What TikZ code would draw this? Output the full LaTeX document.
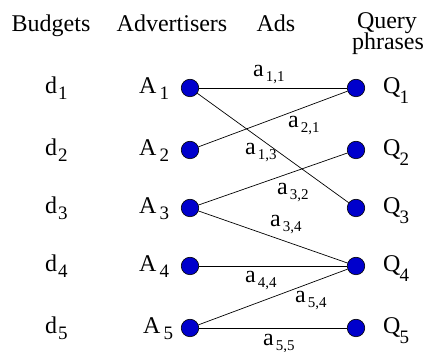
\documentclass[tikz,border=0pt]{standalone}
\usepackage{fontspec}
\setmainfont{Liberation Serif}
\definecolor{vblue}{RGB}{0,0,204}
\newcommand{\rsub}[4]{\hspace{#1}\raisebox{-#2}{\fontsize{#3}{#3}\selectfont #4}}
\begin{document}
\begin{tikzpicture}[x=1pt,y=-1pt,
  vert/.style={circle,draw=black,fill=vblue,minimum size=17.5pt,inner sep=0pt,line width=0.6pt},
  edge/.style={line width=0.7pt,black},
  head/.style={anchor=base,inner sep=0pt,font=\fontsize{24}{24}\selectfont},
  lbl/.style={anchor=base west,inner sep=0pt,font=\fontsize{24}{24}\selectfont},
  elbl/.style={anchor=base west,inner sep=0pt,font=\fontsize{24}{24}\selectfont}]
\useasboundingbox (0,0) rectangle (424,352);
% headers
\node[head] (hb) at (51,32) {Budgets};
\node[head] (ha) at (172,32) {Advertisers};
\node[head] (hd) at (276,32) {Ads};
\node[head] (hq) at (387,29) {Query};
\node[head] (hp) at (388,50) {phrases};
% vertices
\node[vert] (A1) at (190,88) {};
\node[vert] (A2) at (190,150) {};
\node[vert] (A3) at (190,208) {};
\node[vert] (A4) at (190,266) {};
\node[vert] (A5) at (190,328) {};
\node[vert] (Q1) at (356,88) {};
\node[vert] (Q2) at (356,150) {};
\node[vert] (Q3) at (356,208) {};
\node[vert] (Q4) at (356,266) {};
\node[vert] (Q5) at (356,328) {};
% edges
\draw[edge] (A1) -- (Q1);
\draw[edge] (A1) -- (Q3);
\draw[edge] (A2) -- (Q1);
\draw[edge] (A3) -- (Q2);
\draw[edge] (A3) -- (Q4);
\draw[edge] (A4) -- (Q4);
\draw[edge] (A5) -- (Q4);
\draw[edge] (A5) -- (Q5);
% budget labels
\node[lbl] (d1) at (45,94) {d\rsub{1pt}{6pt}{19}{1}};
\node[lbl] (d2) at (45,156) {d\rsub{1pt}{6pt}{19}{2}};
\node[lbl] (d3) at (45,214) {d\rsub{1pt}{6pt}{19}{3}};
\node[lbl] (d4) at (45,272) {d\rsub{1pt}{6pt}{19}{4}};
\node[lbl] (d5) at (45,334) {d\rsub{1pt}{6pt}{19}{5}};
% advertiser labels
\node[lbl] (la1) at (139,94) {A\rsub{3pt}{6pt}{19}{1}};
\node[lbl] (la2) at (139,156) {A\rsub{3pt}{6pt}{19}{2}};
\node[lbl] (la3) at (139,214) {A\rsub{3pt}{6pt}{19}{3}};
\node[lbl] (la4) at (139,272) {A\rsub{3pt}{6pt}{19}{4}};
\node[lbl] (la5) at (143,334) {A\rsub{3pt}{6pt}{19}{5}};
% query labels
\node[lbl] (lq1) at (383,94) {Q\rsub{-1pt}{10pt}{19}{1}};
\node[lbl] (lq2) at (383,156) {Q\rsub{-1pt}{10pt}{19}{2}};
\node[lbl] (lq3) at (383,214) {Q\rsub{-1pt}{10pt}{19}{3}};
\node[lbl] (lq4) at (383,272) {Q\rsub{-1pt}{10pt}{19}{4}};
\node[lbl] (lq5) at (383,334) {Q\rsub{-1pt}{10pt}{19}{5}};
% edge labels
\node[elbl] (e11) at (253,77) {a\rsub{2pt}{5pt}{15}{1,1}};
\node[elbl] (e21) at (288,128) {a\rsub{2pt}{5pt}{15}{2,1}};
\node[elbl] (e13) at (245,155) {a\rsub{2pt}{5pt}{15}{1,3}};
\node[elbl] (e32) at (277,195) {a\rsub{2pt}{5pt}{15}{3,2}};
\node[elbl] (e34) at (270,227) {a\rsub{2pt}{5pt}{15}{3,4}};
\node[elbl] (e44) at (245,283) {a\rsub{2pt}{5pt}{15}{4,4}};
\node[elbl] (e54) at (295,303) {a\rsub{2pt}{5pt}{15}{5,4}};
\node[elbl] (e55) at (263,346) {a\rsub{2pt}{5pt}{15}{5,5}};
\end{tikzpicture}
\end{document}
